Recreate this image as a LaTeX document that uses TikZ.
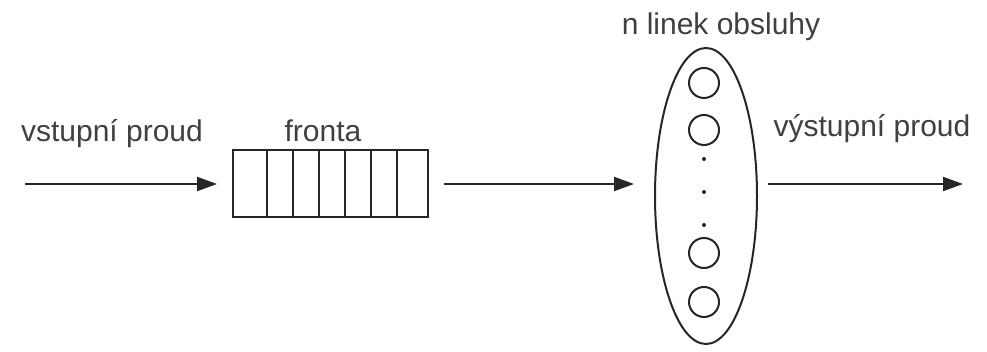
\documentclass[tikz,border=0pt]{standalone}
\usepackage{fontspec}
\setmainfont{Liberation Sans}
\usetikzlibrary{shapes.geometric,arrows.meta}

\begin{document}
\begin{tikzpicture}[x=0.5pt, y=-0.5pt, line width=1pt, color=black!85,
        tok/.style={-{Triangle[length=10pt,width=7pt]}},
        lbl/.style={anchor=base, inner sep=0pt, text=black!75, font=\fontsize{15}{18}\selectfont}]
                            \useasboundingbox (0,0) rectangle (987,352);

                            % fronta
                            \node[draw, rectangle, minimum width=97.5pt, minimum height=33.5pt, inner sep=0pt] (fronta) at (330.5,183.5) {};
                            \foreach \x in {267,293,319,345,371,397}{
                                \draw (fronta.north -| \x,0) -- (fronta.south -| \x,0);
                            }

                            % linky obsluhy
                            \node[draw, ellipse, minimum width=51pt, minimum height=148pt, inner sep=0pt] (linky) at (706,196) {};
                            \foreach \y/\n in {83/a,130/b,253/c,302/d}{
                                \node[draw, circle, minimum size=15pt, inner sep=0pt] (k\n) at (704,\y) {};
                            }
                            \foreach \y in {159,192,225}{
                                \fill (704,\y) circle (1pt);
                            }

                            % proudy
                            \coordinate (vstup) at (25,184);
                            \coordinate (vystup) at (963,184);
                            \draw[tok, shorten >=7.5pt] (vstup) -- (fronta.west |- vstup);
                            \draw[tok, shorten <=7.5pt, shorten >=10pt] (fronta.east |- vstup) -- (linky.west |- vstup);
                            \draw[tok, shorten <=5pt] (linky.east |- vystup) -- (vystup);

                            \node[lbl] (vstupL) at (112,142) {vstupní proud};
                            \node[lbl] (frontaL) at (323,142) {fronta};
                            \node[lbl] (linkyL) at (721,35) {n linek obsluhy};
                            \node[lbl] (vystupL) at (872,137) {výstupní proud};
\end{tikzpicture}
\end{document}
